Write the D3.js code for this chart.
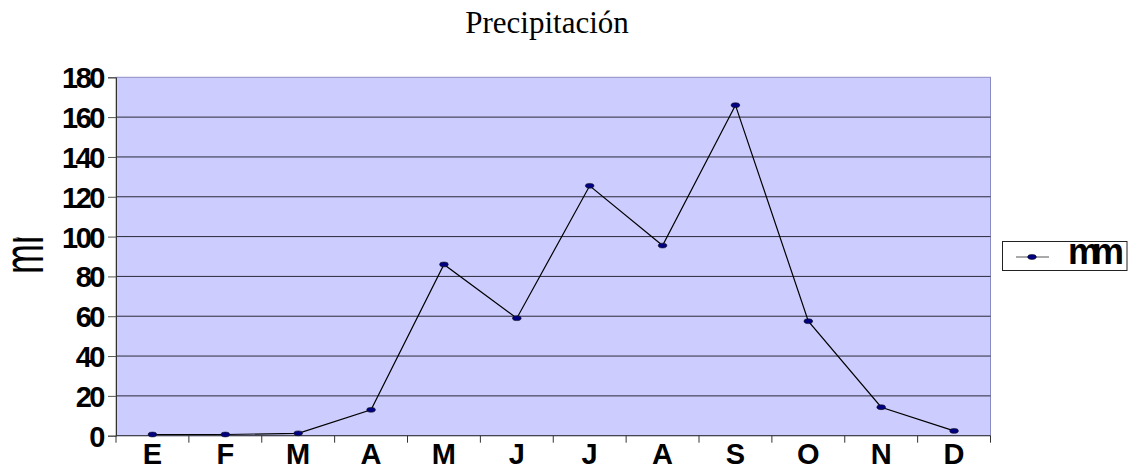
<!DOCTYPE html>
<html>
<head>
<meta charset="utf-8">
<style>
  body { margin: 0; background: #fff; }
  svg { display: block; }
  .tick text { font-family: Arial, "Liberation Sans", sans-serif; font-weight: bold; fill: #000; }
</style>
</head>
<body>
<svg width="1131" height="464"></svg>
<script src="https://cdn.jsdelivr.net/npm/d3@7"></script>
<script>
// data
var months = ["E", "F", "M", "A", "M", "J", "J", "A", "S", "O", "N", "D"];
var rain = [0.6, 0.6, 1.2, 13, 86, 59, 125.5, 95.5, 166, 57.5, 14.3, 2.4];
var yTicks = [0, 20, 40, 60, 80, 100, 120, 140, 160, 180];
var title = "Precipitación";
var unit = "mm";

var svg = d3.select("svg");
var plotL = 116, plotR = 990.5, plotT = 77.3, plotB = 435.7;

var x = d3.scaleBand().domain(d3.range(months.length)).range([plotL, plotR]);
var y = d3.scaleLinear().domain([0, 180]).range([plotB, plotT]);

// title
svg.append("text")
    .attr("x", 547).attr("y", 33)
    .attr("text-anchor", "middle")
    .style("font", "31px 'Liberation Serif', 'Times New Roman', serif")
    .text(title);

// plot background
svg.append("rect")
    .attr("x", plotL).attr("y", plotT)
    .attr("width", plotR - plotL).attr("height", plotB - plotT)
    .attr("fill", "#ccccff")
    .attr("stroke", "#8c8cc4").attr("stroke-width", 1);

// horizontal grid
svg.append("g").selectAll("line")
    .data(yTicks.filter(function(d) { return d > 0 && d < 180; }))
    .enter().append("line")
    .attr("x1", plotL).attr("x2", plotR)
    .attr("y1", function(d) { return y(d); })
    .attr("y2", function(d) { return y(d); })
    .attr("stroke", "#2a2a3a").attr("stroke-width", 1);

// y axis
var yAxis = svg.append("g")
    .attr("transform", "translate(" + plotL + ",0)")
    .call(d3.axisLeft(y).tickValues(yTicks).tickSize(8).tickPadding(5));
yAxis.select(".domain").attr("stroke", "#333");
yAxis.selectAll(".tick line").attr("stroke", "#555");
yAxis.selectAll(".tick text")
    .style("font-size", "29px")
    .style("letter-spacing", "-2.5px")
    .attr("dy", "0.36em");

// x axis with ticks on category boundaries
var xAxis = svg.append("g")
    .attr("transform", "translate(0," + plotB + ")");
xAxis.append("line")
    .attr("x1", plotL).attr("x2", plotR)
    .attr("stroke", "#333");
xAxis.selectAll("line.tk")
    .data(d3.range(months.length + 1))
    .enter().append("line")
    .attr("class", "tk")
    .attr("x1", function(i) { return plotL + i * x.step(); })
    .attr("x2", function(i) { return plotL + i * x.step(); })
    .attr("y1", 0).attr("y2", 7)
    .attr("stroke", "#333");
xAxis.selectAll("text")
    .data(months)
    .enter().append("text")
    .attr("x", function(d, i) { return x(i) + x.bandwidth() / 2; })
    .attr("y", 28)
    .attr("text-anchor", "middle")
    .style("font", "bold 29px Arial, 'Liberation Sans', sans-serif")
    .text(function(d) { return d; });

// y axis title (squeezed and clipped like the original)
svg.append("clipPath").attr("id", "ylab")
    .append("rect").attr("x", 0).attr("y", 237.5).attr("width", 60).attr("height", 45);
svg.append("g")
    .attr("clip-path", "url(#ylab)")
  .append("text")
    .attr("transform", "translate(43,274) rotate(-90) scale(0.62,1)")
    .style("font", "58px Arial, 'Liberation Sans', sans-serif")
    .text(unit);

// line
var line = d3.line()
    .x(function(d, i) { return x(i) + x.bandwidth() / 2; })
    .y(function(d) { return y(d); });
svg.append("path")
    .datum(rain)
    .attr("d", line)
    .attr("fill", "none")
    .attr("stroke", "#000")
    .attr("stroke-width", 1.2);

svg.append("g").selectAll("ellipse")
    .data(rain)
    .enter().append("ellipse")
    .attr("cx", function(d, i) { return x(i) + x.bandwidth() / 2; })
    .attr("cy", function(d) { return y(d); })
    .attr("rx", 4.3).attr("ry", 2.4)
    .attr("fill", "#000080")
    .attr("stroke", "#111").attr("stroke-width", 0.6);

// legend
var lg = svg.append("g");
lg.append("clipPath").attr("id", "lgclip")
    .append("rect").attr("x", 1002).attr("y", 241.5).attr("width", 125).attr("height", 29);
lg.append("rect")
    .attr("x", 1002.5).attr("y", 241.5).attr("width", 124.5).attr("height", 29)
    .attr("fill", "#fff").attr("stroke", "#222");
lg.append("line")
    .attr("x1", 1016).attr("x2", 1049).attr("y1", 257).attr("y2", 257)
    .attr("stroke", "#555");
lg.append("ellipse")
    .attr("cx", 1032).attr("cy", 257).attr("rx", 4.3).attr("ry", 2.4)
    .attr("fill", "#000080").attr("stroke", "#111").attr("stroke-width", 0.6);
lg.append("text")
    .attr("clip-path", "url(#lgclip)")
    .attr("x", 1068).attr("y", 264)
    .style("font", "bold 36px Arial, 'Liberation Sans', sans-serif")
    .style("letter-spacing", "-8px")
    .text(unit);
</script>
</body>
</html>
